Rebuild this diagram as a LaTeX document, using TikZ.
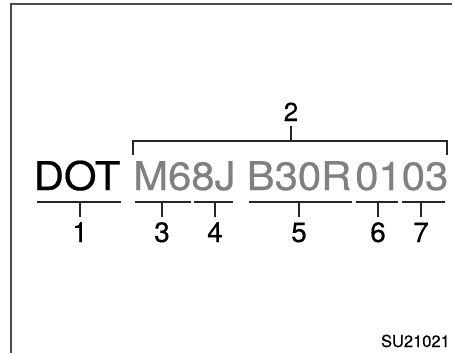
\documentclass[tikz,border=0pt]{standalone}
\usepackage{graphicx}
\usepackage{fontspec}
\setmainfont{TeX Gyre Heros}
\newfontfamily\hvh{TeX Gyre Heros}[FakeBold=0.5]
\newfontfamily\hvm{TeX Gyre Heros}[FakeBold=0.3]
\newcommand{\wide}[1]{\scalebox{1.06}[1]{#1}}
\begin{document}
\begin{tikzpicture}[x=1pt,y=-1pt,
  big/.style={inner sep=0pt,anchor=base west,font=\hvh\fontsize{39.5}{40}\selectfont},
  num/.style={inner sep=0pt,anchor=base,font=\hvm\fontsize{28}{28}\selectfont},
  uline/.style={line width=1.8pt,black!85},
  tick/.style={line width=1.2pt,black!85},
  brk/.style={line width=1.4pt,black!85}]
\useasboundingbox (0,0) rectangle (452,353);
\fill[white] (0,0) rectangle (452,353);
% frame
\draw[line width=1.5pt,black!70] (11,353) -- (11,4) -- (452,4);
% code text
\node[big,text=black] (dot) at (33.5,190) {\wide{DOT}};
\node[big,text=black!50] (m68j) at (133,190) {\wide{M68J}};
\node[big,text=black!50] (b30r) at (246.5,190) {\wide{B30R}};
\node[big,text=black!50] (code) at (355,190) {\wide{0103}};
% underlines and ticks
\foreach \a/\b/\t/\n [count=\i] in {37/121/80/1,135/191/162/3,194/233/215/4,249/352/299/5,356/398/378/6,402/445/421/7}{
  \draw[uline] (\a,202) -- (\b,202);
  \coordinate (t\i) at (\t,202);
  \coordinate (e\i) at (\t,217);
  \draw[tick] (t\i) -- (e\i);
  \node[num] (n\i) at (\t,242) {\n};
}
% bracket
\coordinate (bl) at (133,155);
\coordinate (br) at (447,155);
\coordinate (bc) at (291,141);
\coordinate (bt) at (291,126);
\draw[brk] (bl) -- (133,141) -- (447,141) -- (br);
\draw[brk] (bc) -- (bt);
\node[inner sep=0pt,anchor=base,font=\hvm\fontsize{26}{26}\selectfont] (n2) at (291,121) {2};
% figure code
\node[inner sep=0pt,anchor=base east,font=\hvm\fontsize{16.5}{16.5}\selectfont] (su) at (450,347) {SU21021};
\end{tikzpicture}
\end{document}
